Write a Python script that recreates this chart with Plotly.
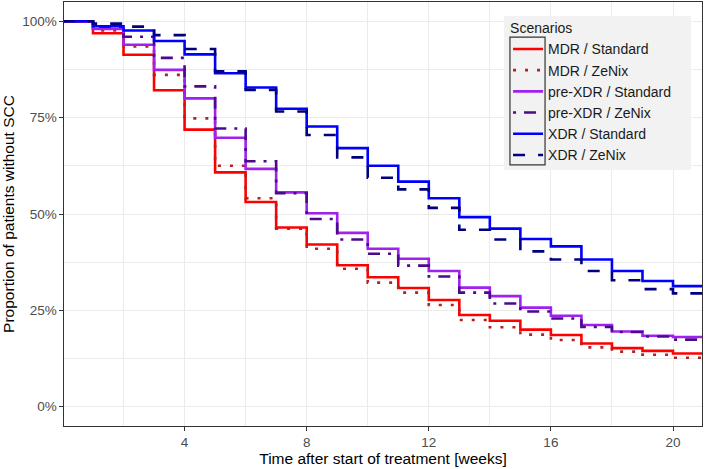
import plotly.graph_objects as go

weeks = list(range(0, 22))

mdr_standard = [1.0, 0.969, 0.913, 0.821, 0.719, 0.608, 0.531, 0.465, 0.421, 0.367, 0.336,
                0.308, 0.277, 0.238, 0.223, 0.200, 0.186, 0.164, 0.152, 0.145, 0.138]
mdr_zenix = [1.0, 0.976, 0.935, 0.861, 0.748, 0.625, 0.541, 0.462, 0.410, 0.358, 0.322,
             0.296, 0.264, 0.225, 0.206, 0.187, 0.173, 0.154, 0.143, 0.135, 0.127]
prexdr_standard = [1.0, 0.980, 0.939, 0.874, 0.800, 0.698, 0.617, 0.556, 0.502, 0.451, 0.410,
                   0.384, 0.352, 0.309, 0.287, 0.257, 0.236, 0.212, 0.195, 0.184, 0.181]
prexdr_zenix = [1.0, 0.986, 0.960, 0.905, 0.831, 0.722, 0.637, 0.554, 0.487, 0.434, 0.397,
                0.366, 0.338, 0.296, 0.268, 0.247, 0.229, 0.207, 0.194, 0.182, 0.174]
xdr_standard = [1.0, 0.987, 0.976, 0.949, 0.914, 0.865, 0.828, 0.773, 0.727, 0.671, 0.625,
                0.584, 0.541, 0.492, 0.462, 0.435, 0.416, 0.382, 0.352, 0.326, 0.313]
xdr_zenix = [1.0, 0.994, 0.986, 0.964, 0.928, 0.870, 0.822, 0.766, 0.705, 0.647, 0.594,
             0.564, 0.516, 0.459, 0.434, 0.403, 0.382, 0.352, 0.328, 0.305, 0.294]

names = ["MDR / Standard", "MDR / ZeNix", "pre-XDR / Standard", "pre-XDR / ZeNix",
         "XDR / Standard", "XDR / ZeNix"]
series = [mdr_standard, mdr_zenix, prexdr_standard, prexdr_zenix, xdr_standard, xdr_zenix]
colors = ["#FF0000", "#B22222", "#A020F0", "#4B0A8C", "#0000FF", "#00007F"]
dashes = ["solid", "3px,9px", "solid", "3px,8px,12px,8px", "solid", "12px,13px"]
widths = [2.6, 2.6, 2.6, 2.6, 2.6, 2.6]

fig = go.Figure()
for name, vals, c, d, w in zip(names, series, colors, dashes, widths):
    yv = vals + [vals[-1]]
    fig.add_trace(go.Scatter(x=weeks, y=yv, mode="lines", name=name,
                             line=dict(color=c, dash=d, width=w, shape="hv")))

font_family = "Liberation Sans, Arial, sans-serif"

fig.update_layout(
    width=709, height=469,
    margin=dict(l=64, r=7, t=2, b=43, autoexpand=False),
    paper_bgcolor="white", plot_bgcolor="white",
    font=dict(family=font_family, color="#000000"),
    showlegend=True,
    legend=dict(
        x=0.696, y=0.969, xanchor="left", yanchor="top",
        bgcolor="rgba(0,0,0,0)", borderwidth=0,
        title=dict(text="Scenarios", font=dict(size=14, color="#1A1A1A")),
        font=dict(size=14, color="#1A1A1A"),
        itemwidth=30, tracegroupgap=0,
    ),
    xaxis=dict(
        range=[0.05, 20.95], tick0=0, dtick=4, automargin=False,
        showgrid=True, gridcolor="#EBEBEB", gridwidth=1.1,
        minor=dict(dtick=2, tick0=0, showgrid=True, gridcolor="#EBEBEB", gridwidth=0.6),
        zeroline=False, showline=True, linecolor="#333333", linewidth=1.1, mirror=True,
        ticks="outside", ticklen=3.5, tickcolor="#333333", tickwidth=1.1,
        tickfont=dict(size=13.5, color="#4D4D4D"),
        title=dict(text="Time after start of treatment [weeks]", font=dict(size=15.5, color="#000000"), standoff=2),
    ),
    yaxis=dict(
        range=[-0.05, 1.05], tick0=0, dtick=0.25, tickformat=".0%", automargin=False,
        showgrid=True, gridcolor="#EBEBEB", gridwidth=1.1,
        minor=dict(dtick=0.125, tick0=0, showgrid=True, gridcolor="#EBEBEB", gridwidth=0.6),
        zeroline=False, showline=True, linecolor="#333333", linewidth=1.1, mirror=True,
        ticks="outside", ticklen=3.5, tickcolor="#333333", tickwidth=1.1,
        tickfont=dict(size=13.5, color="#4D4D4D"),
        title=dict(text="Proportion of patients without SCC", font=dict(size=15.5, color="#000000"), standoff=4),
    ),
    shapes=[
        dict(type="rect", xref="paper", yref="paper", x0=0.6897, x1=0.9828, y0=0.604, y1=0.967,
             fillcolor="#F2F2F2", line=dict(width=0), layer="above"),
        dict(type="rect", xref="paper", yref="paper", x0=0.699, x1=0.754, y0=0.616, y1=0.917,
             fillcolor="rgba(0,0,0,0)", line=dict(width=1.2, color="#333333"), layer="above"),
    ],
)

fig.write_html("out.html", config={"displayModeBar": False},
               post_script="document.body.style.margin='0';document.body.style.padding='0';")
